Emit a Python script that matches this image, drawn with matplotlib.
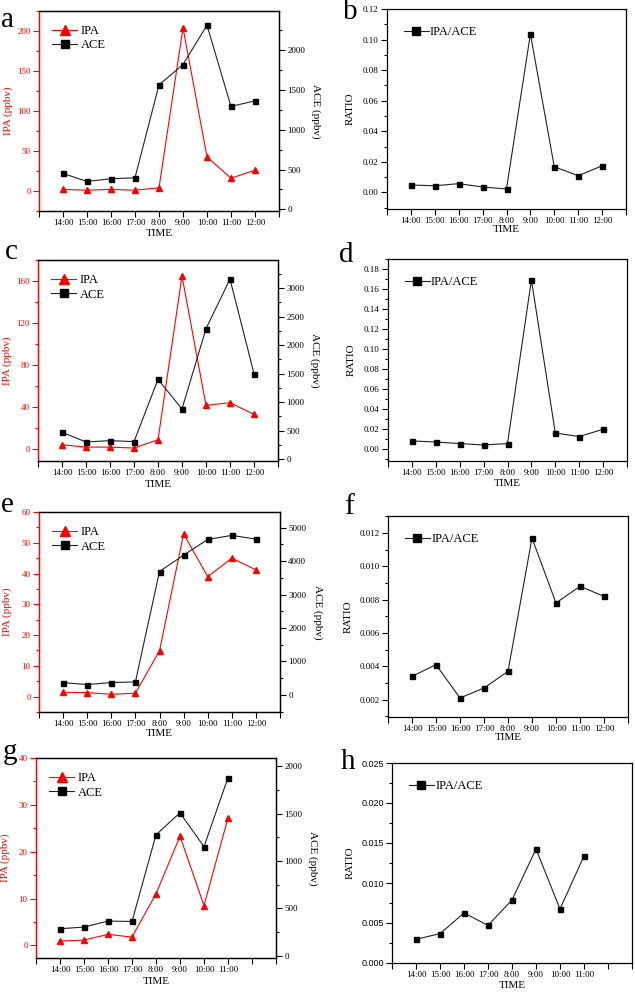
import matplotlib
matplotlib.use('Agg')
import matplotlib.pyplot as plt
from matplotlib.ticker import MultipleLocator, FormatStrFormatter

plt.rcParams['font.family'] = 'Liberation Serif'

times9 = ['14:00', '15:00', '16:00', '17:00', '8:00', '9:00', '10:00', '11:00', '12:00']
times8 = ['14:00', '15:00', '16:00', '17:00', '8:00', '9:00', '10:00', '11:00']

# panel a / b
ipa_a = [2, 1, 2, 1, 4, 204, 42.5, 16, 26]
ace_a = [451, 351, 385, 397, 1563, 1818, 2312, 1292, 1363]
ratio_b = [0.0048, 0.0043, 0.0057, 0.0035, 0.0022, 0.1037, 0.0167, 0.0109, 0.0174]

# panel c / d
ipa_c = [4.4, 2.2, 2.2, 1.3, 9.2, 164.8, 41.9, 44.4, 33.3]
ace_c = [473, 303, 327, 309, 1400, 881, 2287, 3156, 1499]
ratio_d = [0.0083, 0.0073, 0.0057, 0.0043, 0.0057, 0.169, 0.0163, 0.0127, 0.0200]

# panel e / f
ipa_e = [1.4, 1.3, 0.76, 1.1, 14.9, 52.9, 39.0, 45.0, 41.2]
ace_e = [370, 310, 370, 390, 3690, 4180, 4650, 4770, 4660]
ratio_f = [0.0034, 0.0041, 0.0021, 0.0027, 0.0037, 0.0117, 0.0078, 0.0088, 0.0082]

# panel g / h
ipa_g = [0.92, 1.13, 2.34, 1.77, 11.0, 23.3, 8.5, 27.2]
ace_g = [284, 302, 365, 361, 1277, 1509, 1151, 1881]
ratio_h = [0.00296, 0.00367, 0.00625, 0.0047, 0.00788, 0.01425, 0.00675, 0.01338]

W, H = 635, 992
fig = plt.figure(figsize=(W / 100, H / 100), dpi=100)

RED = '#ff0000'
TICK_FS = 6.5
LAB_FS = 8


def make_ax(x0, x1, y0, y1):
    return fig.add_axes([x0 / W, 1 - y1 / H, (x1 - x0) / W, (y1 - y0) / H])


def setup_x(ax, labels, ylab):
    pos = list(range(1, len(labels) + 1))
    ax.set_xlim(0, 10)
    ax.set_xticks(range(0, 11))
    ax.set_xticklabels([''] + labels + [''] * (10 - len(labels)), fontsize=TICK_FS)
    ax.tick_params(axis='x', direction='out', length=4, width=0.8, pad=2)
    ax.set_xlabel('TIME', fontsize=LAB_FS, va='center')
    ax.xaxis.set_label_coords(0.5, ylab)
    return pos


def dual_panel(box, labels, ipa, ace, ylim1, yt1, ylim2, yt2, ylab):
    ax = make_ax(*box)
    pos = setup_x(ax, labels, ylab)
    l1, = ax.plot(pos, ipa, color=RED, lw=0.8, marker='^', ms=4, mec=RED, label='IPA')
    ax.set_ylim(*ylim1)
    ax.yaxis.set_major_locator(MultipleLocator(yt1))
    ax.yaxis.set_minor_locator(MultipleLocator(yt1 / 2))
    ax.tick_params(axis='y', which='both', colors=RED, labelsize=TICK_FS, width=0.8, pad=2)
    ax.tick_params(axis='y', which='major', length=4)
    ax.tick_params(axis='y', which='minor', length=2)
    ax.spines['left'].set_color(RED)
    ax.set_ylabel('IPA (ppbv)', color=RED, fontsize=LAB_FS, va='center')
    ax.yaxis.set_label_coords(-0.13, 0.5)

    ax2 = ax.twinx()
    l2, = ax2.plot(pos, ace, color='#222222', lw=0.8, marker='s', ms=3.6, mfc='black', mec='black', label='ACE')
    ax2.set_ylim(*ylim2)
    ax2.yaxis.set_major_locator(MultipleLocator(yt2))
    ax2.yaxis.set_minor_locator(MultipleLocator(yt2 / 2))
    ax2.tick_params(axis='y', which='both', labelsize=TICK_FS, width=0.8, pad=2)
    ax2.tick_params(axis='y', which='major', length=4)
    ax2.tick_params(axis='y', which='minor', length=2)
    ax2.spines['left'].set_color(RED)
    ax2.set_ylabel('ACE (ppbv)', fontsize=LAB_FS, rotation=270, va='center')
    ax2.yaxis.set_label_coords(1.155, 0.5)
    for a in (ax, ax2):
        for s in a.spines.values():
            s.set_linewidth(0.9)
    ax.legend(handles=[l1, l2], loc='upper left', bbox_to_anchor=(0.055, 0.93),
              frameon=False, fontsize=9, handlelength=2.0, handletextpad=0.3,
              labelspacing=0.2, borderpad=0, borderaxespad=0, markerscale=1.7)
    return ax


def ratio_panel(box, labels, ratio, ylim, yt, fmt, ylab, rlab, sans=False):
    ax = make_ax(*box)
    pos = setup_x(ax, labels, ylab)
    l, = ax.plot(pos, ratio, color='#222222', lw=0.8, marker='s', ms=3.6, mfc='black', mec='black', label='IPA/ACE')
    ax.set_ylim(*ylim)
    ax.yaxis.set_major_locator(MultipleLocator(yt))
    ax.yaxis.set_minor_locator(MultipleLocator(yt / 2))
    ax.yaxis.set_major_formatter(FormatStrFormatter(fmt))
    ax.tick_params(axis='y', which='both', labelsize=TICK_FS, width=0.8, pad=2)
    ax.tick_params(axis='y', which='major', length=4)
    ax.tick_params(axis='y', which='minor', length=2)
    if sans:
        for t in ax.get_yticklabels():
            t.set_family('Liberation Sans')
    ax.set_ylabel('RATIO', fontsize=LAB_FS, va='center')
    ax.yaxis.set_label_coords(rlab, 0.5)
    for s in ax.spines.values():
        s.set_linewidth(0.9)
    ax.legend(handles=[l], loc='upper left', bbox_to_anchor=(0.07, 0.915),
              frameon=False, fontsize=9, handlelength=2.0, handletextpad=0.1,
              borderpad=0, borderaxespad=0, markerscale=1.7)
    return ax


dual_panel((39, 279, 11, 211), times9, ipa_a, ace_a, (-25, 225), 50, (-20, 2490), 500, -0.11)
ratio_panel((387, 626, 9, 209), times9, ratio_b, (-0.0109, 0.12), 0.02, '%.2f', -0.105, -0.155)

dual_panel((38, 278, 260, 461), times9, ipa_c, ace_c, (-11, 180), 40, (-30, 3490), 500, -0.115)
ratio_panel((388, 627, 259, 461), times9, ratio_d, (-0.0117, 0.190), 0.02, '%.2f', -0.11, -0.155)

dual_panel((39, 280, 512, 712), times9, ipa_e, ace_e, (-5, 60), 10, (-510, 5470), 1000, -0.105)
ratio_panel((388, 628, 516, 717), times9, ratio_f, (0.00096, 0.01302), 0.002, '%.3f', -0.1, -0.167)

dual_panel((36, 276, 758, 958), times8, ipa_g, ace_g, (-2.7, 40), 10, (-25, 2088), 500, -0.12)
ratio_panel((392, 632, 763, 963), times8, ratio_h, (0, 0.025), 0.005, '%.3f', -0.11, -0.175, sans=True)

# panel letters
letters = [('a', 7, 20), ('b', 350, 12), ('c', 11, 252), ('d', 346, 255),
           ('e', 7, 505), ('f', 349, 507), ('g', 10, 752), ('h', 348, 762)]
for s, x, y in letters:
    fig.text(x / W, 1 - y / H, s, fontsize=21, ha='center', va='center')

fig.savefig('out.png', dpi=100)
